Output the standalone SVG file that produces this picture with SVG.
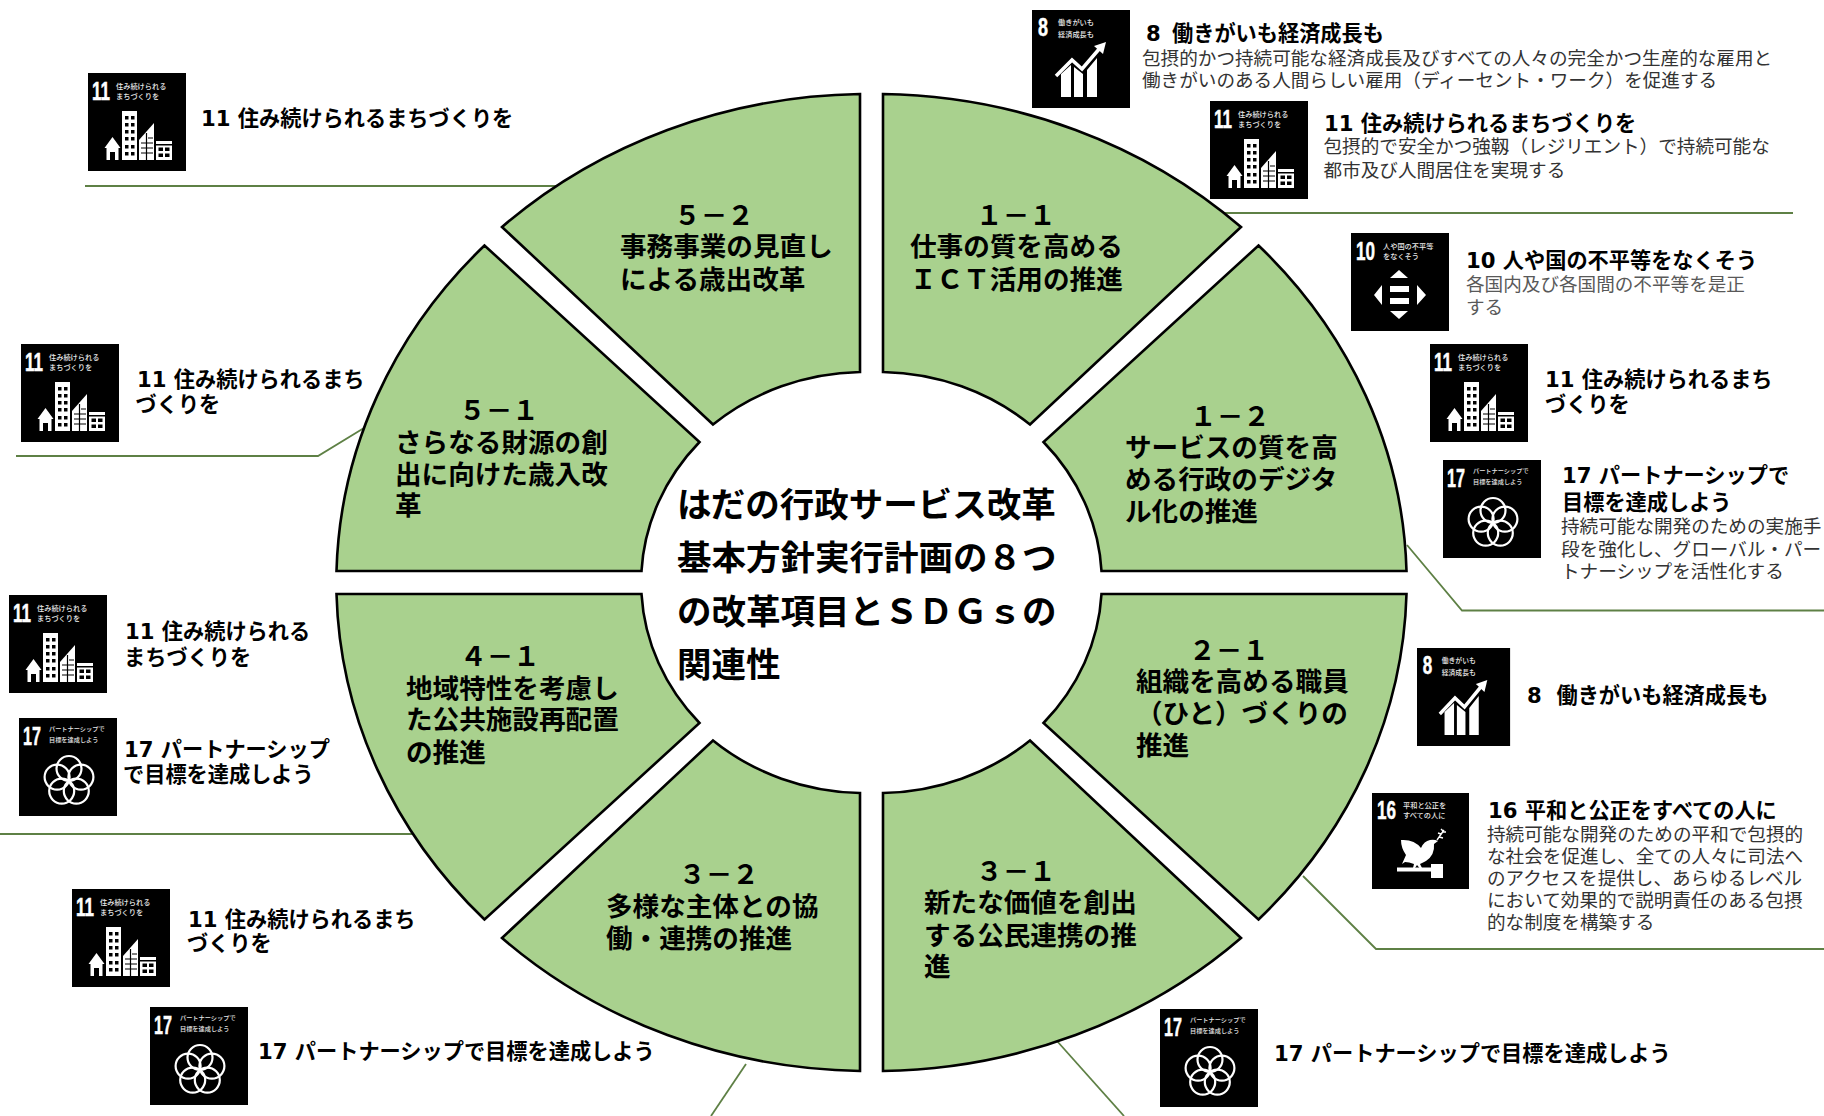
<svg xmlns="http://www.w3.org/2000/svg" width="1824" height="1116" viewBox="0 0 1824 1116">
<style>
text{font-family:"DejaVu Sans","Noto Sans CJK JP",sans-serif;fill:#000;white-space:pre}
.w{fill:#A9D18E;stroke:#000;stroke-width:2.6;stroke-linejoin:miter}
.t{font-size:34.5px;font-weight:700}
.l{font-size:26.6px;font-weight:700}
.m{text-anchor:middle}
.h{font-size:21.2px;font-weight:700;font-family:"DejaVu Sans","Noto Sans CJK JP",sans-serif}
.b{font-size:18.6px;font-family:"Noto Sans CJK JP",sans-serif;fill:#333}
.g{fill:#595959}
.c{fill:none;stroke:#5E8045;stroke-width:1.8}
.n{font-family:"Liberation Sans",sans-serif;font-size:26px;font-weight:700;fill:#fff;stroke:#fff;stroke-width:.5}
.s{font-family:"Noto Sans CJK JP",sans-serif;font-size:7.2px;font-weight:500;fill:#e8e8e8}
.s6{font-size:6.2px}
</style>
<defs>
<rect id="bg" width="98" height="98" fill="#000"/>
<g id="a11"><use href="#bg"/>
<path fill="#fff" d="M24.500,64 L32.500,75 H30.500 V87 H27 V79 H22 V87 H18.500 V75 H16.500 Z"/>
<rect x="34" y="38" width="15" height="49" fill="#fff"/>
<path fill="#000" d="M37,43h3.500v3.500h-3.500zM43,43h3.500v3.500h-3.500zM37,50h3.500v3.500h-3.500zM43,50h3.500v3.500h-3.500zM37,57h3.500v3.500h-3.500zM43,57h3.500v3.500h-3.500zM37,64h3.500v3.500h-3.500zM43,64h3.500v3.500h-3.500zM37,72h3.500v3.500h-3.500zM43,72h3.500v3.500h-3.500zM37,79h3.500v3.500h-3.500zM43,79h3.500v3.500h-3.500z"/>
<path fill="#fff" d="M51,67 L66,50 V87 H51 Z"/>
<path stroke="#000" stroke-width="1.200" fill="none" d="M58.500,60V87M53,70H65M53,75H65M53,80H65M60,65H65"/>
<rect x="68" y="68" width="16" height="19" fill="#fff"/>
<path fill="#000" d="M68,71h16v1.500h-16zM70.500,74.500h4.500v3.500h-4.500zM77,74.500h4.500v3.500h-4.500zM70.500,80.500h4.500v3.500h-4.500zM77,80.500h4.500v3.500h-4.500z"/>
</g>
<g id="a8"><use href="#bg"/>
<path fill="#fff" d="M29,64 L39,55 V87 H29 Z M42,57 L51,64 V87 H42 Z M55,60 L65,48 V87 H55 Z"/>
<path fill="none" stroke="#fff" stroke-width="3.500" d="M24,66 L40,50 L50,59 L68,38"/>
<path fill="#fff" d="M74,32 L62,36 L71,44 Z"/>
</g>
<g id="a10"><use href="#bg"/>
<path fill="#fff" d="M48,37 L57,45 H39 Z M48,86 L39,78 H57 Z M23,62 L31,52 V72 Z M75,62 L66,52 V72 Z M39,53 H58 V59 H39 Z M39,65 H58 V71 H39 Z"/>
</g>
<g id="a17"><use href="#bg"/>
<g fill="none" stroke="#fff" stroke-width="2.200">
<circle cx="50" cy="50.500" r="12.500"/><circle cx="61.900" cy="59.100" r="12.500"/><circle cx="57.300" cy="73.100" r="12.500"/><circle cx="42.700" cy="73.100" r="12.500"/><circle cx="38.100" cy="59.100" r="12.500"/>
</g></g>
<g id="a16"><rect width="97" height="96" fill="#000"/>
<path fill="#fff" d="M29,47 Q42,46 49,55 Q52,48 58,47 Q62,46 66,48 L62,51 Q63,62 54,68 L48,71 L50,75 H47.500 L45,72 L43,75 H41 L42,71 Q37,69 33,69 L30,71 L34,62 Q29,55 29,47 Z"/>
<path fill="none" stroke="#fff" stroke-width="1.400" d="M65,47 L72,37 M67,44 L71,45 M69,41 L66,40 M70,39 L74,39 M71,38 L69,36"/>
<path fill="#fff" d="M25,74.500 H59 V78.500 H25 Z M59,71 H71 V85 H59 Z"/>
</g>
</defs>
<g id="connectors">
<path class="c" d="M85,186 H560"/>
<path class="c" d="M1215,213 H1793"/>
<path class="c" d="M16,456 H318 L364,428"/>
<path class="c" d="M1407,545 L1462,610.500 H1824"/>
<path class="c" d="M1303,876 L1376,949 H1824"/>
<path class="c" d="M0,834 H420"/>
<path class="c" d="M711,1116 L746,1064"/>
<path class="c" d="M1057,1041 L1124,1116"/>
</g>
<g id="item-1-1"><path class="w" d="M883,94 A535,489 0 0 1 1241,227 L1030,424.500 A230,211 0 0 0 883,372 Z"/>
<text class="l m" x="1016" y="225">１－１</text><text class="l" x="910" y="256">仕事の質を高める</text><text class="l" x="910" y="288.500">ＩＣＴ活用の推進</text></g>
<g id="item-1-2"><path class="w" d="M1258.500,245.500 A535,489 0 0 1 1406.500,571 H1101.500 A230,211 0 0 0 1043.500,442 Z"/>
<text class="l m" x="1230" y="426">１－２</text><text class="l" x="1125" y="457">サービスの質を高</text><text class="l" x="1125" y="489">める行政のデジタ</text><text class="l" x="1125" y="521">ル化の推進</text></g>
<g id="item-2-1"><path class="w" d="M1406.500,594 A535,489 0 0 1 1258.500,919.500 L1043.500,723 A230,211 0 0 0 1101.500,594 Z"/>
<text class="l m" x="1229" y="660">２－１</text><text class="l" x="1136" y="691">組織を高める職員</text><text class="l" x="1136" y="722.500">（ひと）づくりの</text><text class="l" x="1136" y="755">推進</text></g>
<g id="item-3-1"><path class="w" d="M1241,938 A535,489 0 0 1 883,1071 V793 A230,211 0 0 0 1030,740.500 Z"/>
<text class="l m" x="1016" y="881">３－１</text><text class="l" x="924" y="912">新たな価値を創出</text><text class="l" x="924" y="945">する公民連携の推</text><text class="l" x="924" y="976">進</text></g>
<g id="item-3-2"><path class="w" d="M860,1071 A535,489 0 0 1 502,938 L713,740.500 A230,211 0 0 0 860,793 Z"/>
<text class="l m" x="719" y="884">３－２</text><text class="l" x="606" y="916">多様な主体との協</text><text class="l" x="606" y="948">働・連携の推進</text></g>
<g id="item-4-1"><path class="w" d="M484.500,919.500 A535,489 0 0 1 336.500,594 H641.500 A230,211 0 0 0 699.500,723 Z"/>
<text class="l m" x="500" y="665.500">４－１</text><text class="l" x="406" y="697.500">地域特性を考慮し</text><text class="l" x="406" y="729">た公共施設再配置</text><text class="l" x="406" y="761.500">の推進</text></g>
<g id="item-5-1"><path class="w" d="M336.500,571 A535,489 0 0 1 484.500,245.500 L699.500,442 A230,211 0 0 0 641.500,571 Z"/>
<text class="l m" x="499" y="420">５－１</text><text class="l" x="395" y="452">さらなる財源の創</text><text class="l" x="395" y="483.500">出に向けた歳入改</text><text class="l" x="395" y="515">革</text></g>
<g id="item-5-2"><path class="w" d="M502,227 A535,489 0 0 1 860,94 V372 A230,211 0 0 0 713,424.500 Z"/>
<text class="l m" x="714" y="225">５－２</text><text class="l" x="620" y="256">事務事業の見直し</text><text class="l" x="620" y="288.500">による歳出改革</text></g>
<g id="center-title"><text class="t" x="677" y="517">はだの行政サービス改革</text><text class="t" x="677" y="570">基本方針実行計画の８つ</text><text class="t" x="677" y="624">の改革項目とＳＤＧｓの</text><text class="t" x="677" y="677">関連性</text></g>

<g id="goal-8-top"><g transform="translate(1032,10)"><use href="#a8"/><text class="n" x="6" y="26" textLength="10" lengthAdjust="spacingAndGlyphs">8</text><text class="s" x="26" y="15">働きがいも</text><text class="s" x="26" y="27">経済成長も</text></g>
<text class="h" x="1146" y="41">8  <tspan dx="-3.500">働きがいも経済成長も</tspan></text><text class="b" x="1142" y="65">包摂的かつ持続可能な経済成長及びすべての人々の完全かつ生産的な雇用と</text><text class="b" x="1142" y="87">働きがいのある人間らしい雇用（ディーセント・ワーク）を促進する</text></g>
<g id="goal-11-top"><g transform="translate(1210,101)"><use href="#a11"/><text class="n" x="4" y="27" textLength="18" lengthAdjust="spacingAndGlyphs">11</text><text class="s" x="28" y="16">住み続けられる</text><text class="s" x="28" y="26">まちづくりを</text></g>
<text class="h" x="1324" y="130.500">11 住み続けられるまちづくりを</text><text class="b" x="1323.500" y="153">包摂的で安全かつ強靱（レジリエント）で持続可能な</text><text class="b" x="1323.500" y="177">都市及び人間居住を実現する</text></g>
<g id="goal-10"><g transform="translate(1351,233)"><use href="#a10"/><text class="n" x="5" y="27" textLength="19" lengthAdjust="spacingAndGlyphs">10</text><text class="s" x="32" y="16">人や国の不平等</text><text class="s" x="32" y="26">をなくそう</text></g>
<text class="h" x="1466" y="267.500">10 人や国の不平等をなくそう</text><text class="b g" x="1466" y="291">各国内及び各国間の不平等を是正</text><text class="b g" x="1466" y="314">する</text></g>
<g id="goal-11-right"><g transform="translate(1430,344)"><use href="#a11"/><text class="n" x="4" y="27" textLength="18" lengthAdjust="spacingAndGlyphs">11</text><text class="s" x="28" y="16">住み続けられる</text><text class="s" x="28" y="26">まちづくりを</text></g>
<text class="h" x="1545" y="386.500">11 住み続けられるまち</text><text class="h" x="1545" y="411.500">づくりを</text></g>
<g id="goal-17-right"><g transform="translate(1443,460)"><use href="#a17"/><text class="n" x="4" y="27" textLength="18" lengthAdjust="spacingAndGlyphs">17</text><text class="s s6" x="30" y="13">パートナーシップで</text><text class="s s6" x="30" y="24">目標を達成しよう</text></g>
<text class="h" x="1562" y="482.500">17 パートナーシップで</text><text class="h" x="1562" y="509.500">目標を達成しよう</text><text class="b" x="1561" y="533">持続可能な開発のための実施手</text><text class="b" x="1561" y="556">段を強化し、グローバル・パー</text><text class="b" x="1561" y="578">トナーシップを活性化する</text></g>
<g id="goal-8-right"><g transform="translate(1417,648) scale(.95,1)"><use href="#a8"/><text class="n" x="6" y="26" textLength="10" lengthAdjust="spacingAndGlyphs">8</text><text class="s" x="26" y="15">働きがいも</text><text class="s" x="26" y="27">経済成長も</text></g>
<text class="h" x="1527" y="702.500">8  働きがいも経済成長も</text></g>
<g id="goal-16"><g transform="translate(1372,793)"><use href="#a16"/><text class="n" x="5" y="26" textLength="19" lengthAdjust="spacingAndGlyphs">16</text><text class="s" x="31" y="15">平和と公正を</text><text class="s" x="31" y="25">すべての人に</text></g>
<text class="h" x="1488" y="817.500">16 平和と公正をすべての人に</text><text class="b" x="1487" y="841">持続可能な開発のための平和で包摂的</text><text class="b" x="1487" y="863">な社会を促進し、全ての人々に司法へ</text><text class="b" x="1487" y="885">のアクセスを提供し、あらゆるレベル</text><text class="b" x="1487" y="907">において効果的で説明責任のある包摂</text><text class="b" x="1487" y="929">的な制度を構築する</text></g>
<g id="goal-17-bottom-right"><g transform="translate(1160,1009)"><use href="#a17"/><text class="n" x="4" y="27" textLength="18" lengthAdjust="spacingAndGlyphs">17</text><text class="s s6" x="30" y="13">パートナーシップで</text><text class="s s6" x="30" y="24">目標を達成しよう</text></g>
<text class="h" x="1274" y="1061">17 パートナーシップで目標を達成しよう</text></g>
<g id="goal-11-top-left"><g transform="translate(88,73)"><use href="#a11"/><text class="n" x="4" y="27" textLength="18" lengthAdjust="spacingAndGlyphs">11</text><text class="s" x="28" y="16">住み続けられる</text><text class="s" x="28" y="26">まちづくりを</text></g>
<text class="h" x="201" y="126">11 住み続けられるまちづくりを</text></g>
<g id="goal-11-left"><g transform="translate(21,344)"><use href="#a11"/><text class="n" x="4" y="27" textLength="18" lengthAdjust="spacingAndGlyphs">11</text><text class="s" x="28" y="16">住み続けられる</text><text class="s" x="28" y="26">まちづくりを</text></g>
<text class="h" x="137" y="387">11 住み続けられるまち</text><text class="h" x="135.500" y="411.500">づくりを</text></g>
<g id="goal-11-mid-left"><g transform="translate(9,595)"><use href="#a11"/><text class="n" x="4" y="27" textLength="18" lengthAdjust="spacingAndGlyphs">11</text><text class="s" x="28" y="16">住み続けられる</text><text class="s" x="28" y="26">まちづくりを</text></g>
<text class="h" x="125" y="639">11 住み続けられる</text><text class="h" x="124" y="665">まちづくりを</text></g>
<g id="goal-17-mid-left"><g transform="translate(19,718)"><use href="#a17"/><text class="n" x="4" y="27" textLength="18" lengthAdjust="spacingAndGlyphs">17</text><text class="s s6" x="30" y="13">パートナーシップで</text><text class="s s6" x="30" y="24">目標を達成しよう</text></g>
<text class="h" x="124" y="757">17 パートナーシップ</text><text class="h" x="123" y="782">で目標を達成しよう</text></g>
<g id="goal-11-low-left"><g transform="translate(72,889)"><use href="#a11"/><text class="n" x="4" y="27" textLength="18" lengthAdjust="spacingAndGlyphs">11</text><text class="s" x="28" y="16">住み続けられる</text><text class="s" x="28" y="26">まちづくりを</text></g>
<text class="h" x="188" y="927">11 住み続けられるまち</text><text class="h" x="187" y="951">づくりを</text></g>
<g id="goal-17-low-left"><g transform="translate(150,1007)"><use href="#a17"/><text class="n" x="4" y="27" textLength="18" lengthAdjust="spacingAndGlyphs">17</text><text class="s s6" x="30" y="13">パートナーシップで</text><text class="s s6" x="30" y="24">目標を達成しよう</text></g>
<text class="h" x="258" y="1059">17 パートナーシップで目標を達成しよう</text></g>
</svg>
